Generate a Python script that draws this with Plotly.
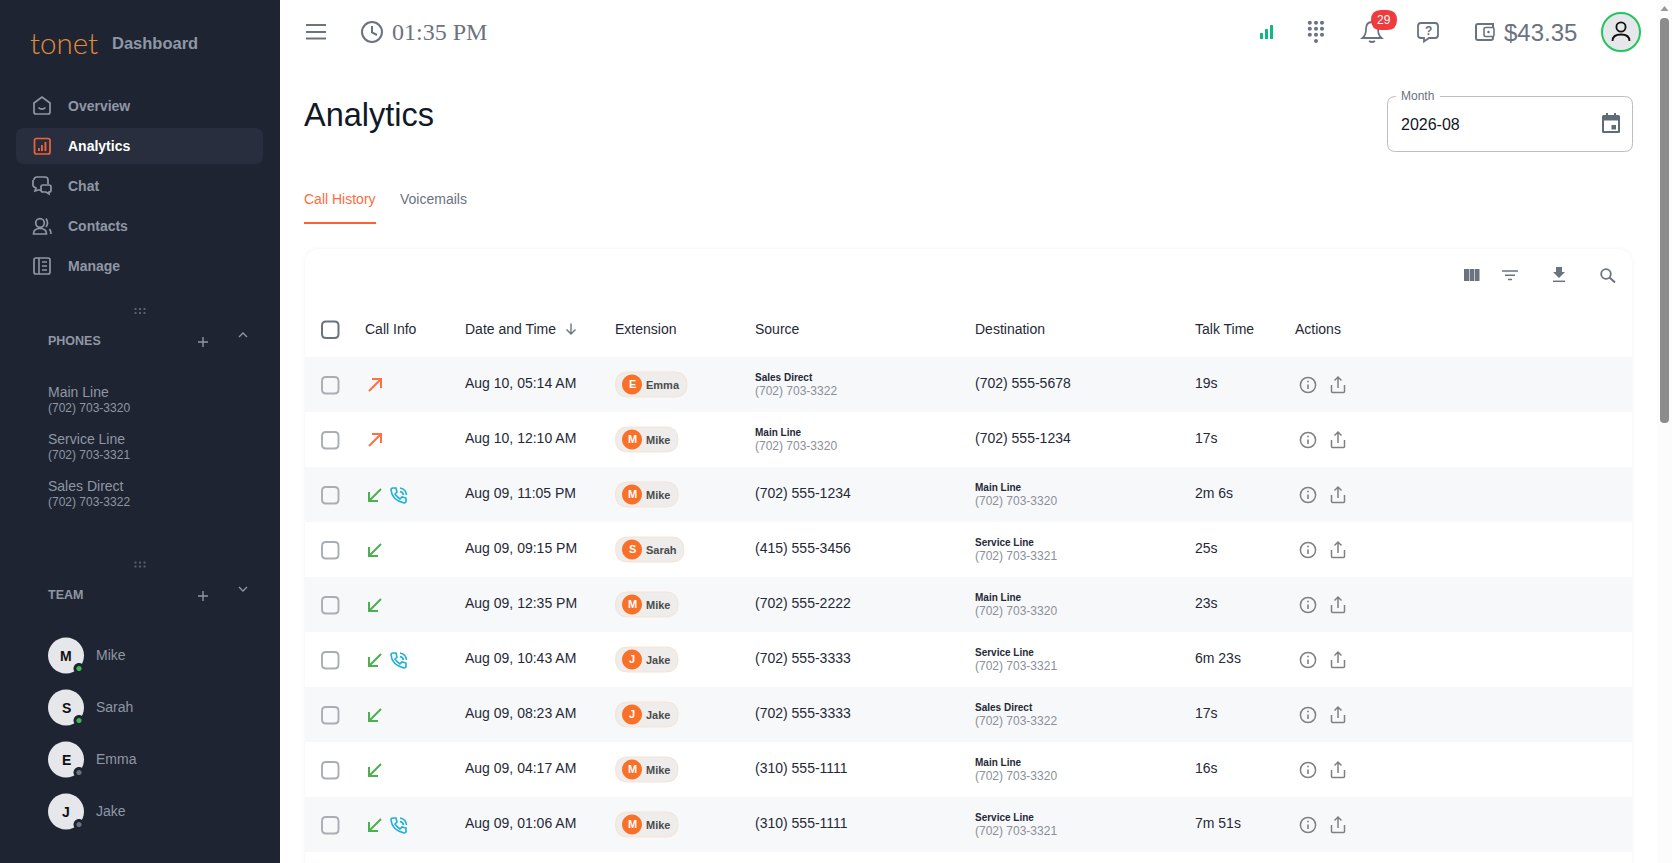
import re
import plotly.graph_objects as go

# ---------- content ----------
nav_labels = ["Overview", "Analytics", "Chat", "Contacts", "Manage"]
phone_names = ["Main Line", "Service Line", "Sales Direct"]
phone_numbers = ["(702) 703-3320", "(702) 703-3321", "(702) 703-3322"]
team_names = ["Mike", "Sarah", "Emma", "Jake"]
team_online = [True, True, False, False]
headers = ["Call Info", "Date and Time", "Extension", "Source", "Destination", "Talk Time", "Actions"]
directions = ["out", "out", "in", "in", "in", "in", "in", "in", "in"]
has_recording = [False, False, True, False, False, True, False, False, True]
dates = ["Aug 10, 05:14 AM", "Aug 10, 12:10 AM", "Aug 09, 11:05 PM", "Aug 09, 09:15 PM", "Aug 09, 12:35 PM",
         "Aug 09, 10:43 AM", "Aug 09, 08:23 AM", "Aug 09, 04:17 AM", "Aug 09, 01:06 AM"]
extensions = ["Emma", "Mike", "Mike", "Sarah", "Mike", "Jake", "Jake", "Mike", "Mike"]
sources = ["Sales Direct|(702) 703-3322", "Main Line|(702) 703-3320", "(702) 555-1234", "(415) 555-3456",
           "(702) 555-2222", "(702) 555-3333", "(702) 555-3333", "(310) 555-1111", "(310) 555-1111"]
destinations = ["(702) 555-5678", "(702) 555-1234", "Main Line|(702) 703-3320", "Service Line|(702) 703-3321",
                "Main Line|(702) 703-3320", "Service Line|(702) 703-3321", "Sales Direct|(702) 703-3322",
                "Main Line|(702) 703-3320", "Service Line|(702) 703-3321"]
talk_times = ["19s", "17s", "2m 6s", "25s", "23s", "6m 23s", "17s", "16s", "7m 51s"]

# ---------- styles ----------
SANS = "Liberation Sans"
SIDE = "#1e2432"
MUTED = "#8f97a4"
INK = "#1f2937"
GRAY = "#6b7280"
ORANGE = "#f97028"
W, H = 1672, 863

shapes, notes = [], []


def tp(d, ox=0, oy=0, s=1):
    out = []
    for cmd, args in re.findall(r"([MLCQZ])([^MLCQZ]*)", d):
        n = [float(v) for v in re.findall(r"-?\d+\.?\d*", args)]
        pts = " ".join(f"{ox + s * n[i]:.2f},{oy + s * n[i + 1]:.2f}" for i in range(0, len(n), 2))
        out.append(cmd + pts)
    return " ".join(out)


def circ(cx, cy, r, ry=None):
    ry = ry if ry is not None else r
    k = 0.5523
    return (f"M{cx - r},{cy} C{cx - r},{cy - k * ry} {cx - k * r},{cy - ry} {cx},{cy - ry} "
            f"C{cx + k * r},{cy - ry} {cx + r},{cy - k * ry} {cx + r},{cy} "
            f"C{cx + r},{cy + k * ry} {cx + k * r},{cy + ry} {cx},{cy + ry} "
            f"C{cx - k * r},{cy + ry} {cx - r},{cy + k * ry} {cx - r},{cy} Z")


def rrect(x0, y0, x1, y1, r):
    return (f"M{x0 + r},{y0} L{x1 - r},{y0} Q{x1},{y0} {x1},{y0 + r} L{x1},{y1 - r} Q{x1},{y1} {x1 - r},{y1} "
            f"L{x0 + r},{y1} Q{x0},{y1} {x0},{y1 - r} L{x0},{y0 + r} Q{x0},{y0} {x0 + r},{y0} Z")


def draw(d, color=None, width=0, fill=None, ox=0, oy=0, s=1):
    shapes.append(dict(type="path", xref="x", yref="y", path=tp(d, ox, oy, s),
                       line=dict(color=color or "rgba(0,0,0,0)", width=width),
                       fillcolor=fill or "rgba(0,0,0,0)", layer="above"))


def text(x, y, t, size=14, color=INK, bold=False, family=SANS, anchor="left", weight=None):
    notes.append(dict(x=x, y=y, xref="x", yref="y", text=f"<b>{t}</b>" if bold else t, showarrow=False,
                      xanchor=anchor, yanchor="middle", borderwidth=0, borderpad=0,
                      font=dict(family=family, size=size, color=color, **({"weight": weight} if weight else {}))))


# ---------- page frame ----------
draw(rrect(0, 0, 280, H, 0), fill=SIDE)
# scrollbar
draw(rrect(1657, 0, 1672, H, 0), fill="#fcfcfc")
draw(rrect(1660, 18, 1669, 423, 4), fill="#8c8c8c")
draw("M1660.5,11 L1664.5,6 L1668.5,11 Z", fill="#9a9a9a")

# ---------- sidebar ----------
text(29.5, 42, "tonet", size=29.5, color="#e08c3c", family="Lato", weight=300)
text(112, 43, "Dashboard", size=16.5, color=MUTED, bold=True)
draw(rrect(16, 128, 263, 164, 8), fill="#282e3d")
nav_y = [106, 146, 186, 226, 266]
for label, y in zip(nav_labels, nav_y):
    text(68, y, label, color="#ffffff" if label == "Analytics" else MUTED, bold=True)
IC = MUTED
draw("M-8,-3 L0,-9 L8,-3 L8,6 Q8,8 6,8 L-6,8 Q-8,8 -8,6 Z M-3.5,1.5 Q0,5 3.5,1.5", IC, 1.7, ox=42, oy=106)
draw(rrect(34.5, 138.5, 50, 154, 2), "#f0633a", 1.7)
for bx, by in [(38, 148), (41, 145), (44.5, 142)]:
    draw(rrect(bx, by, bx + 1.9, 151, 0.5), fill="#f0633a")
draw("M34,180 Q34,177 37,177 L45,177 Q48,177 48,180 L48,184 M41,190 L38,190 L35,191 L36,188 Q33,187 33,185 L33,180", IC, 1.7)
draw("M43,185 L49,185 Q51,185 51,187 L51,190 Q51,192 49,192 L49,194 L46,192 L43,192 Q41,192 41,190 L41,187 Q41,185 43,185 Z", IC, 1.7)
draw(circ(40, 223, 4.3), IC, 1.7)
draw("M33.5,234 Q33.5,228.5 40,228.5 Q46.5,228.5 46.5,234 Z M46,218.5 Q49,223 46,227 M49.5,229 Q51,231 51,234", IC, 1.7)
draw(rrect(34, 258, 50, 274, 2), IC, 1.7)
draw("M39,258 L39,274 M42,262 L47,262 M42,266 L47,266 M42,270 L47,270", IC, 1.6)


def grip(y):
    for gx in (135.5, 140, 144.5):
        for gy in (y - 2, y + 2):
            draw(rrect(gx - 1, gy - 1, gx + 1, gy + 1, 0.3), fill="#596070")


grip(311)
text(48, 340.5, "PHONES", size=12.5, color=MUTED, bold=True)
draw("M198,342 L208,342 M203,337 L203,347", MUTED, 1.4)
draw("M239,337 L243,333 L247,337", MUTED, 1.3)
for i, (nm, num) in enumerate(zip(phone_names, phone_numbers)):
    text(48, 392 + i * 47, nm, color=MUTED)
    text(48, 407.7 + i * 47, num, size=12, color=MUTED)
grip(564.5)
text(48, 594.5, "TEAM", size=12.5, color=MUTED, bold=True)
draw("M198,596 L208,596 M203,591 L203,601", MUTED, 1.4)
draw("M239,587 L243,591 L247,587", MUTED, 1.3)
for i, (nm, on) in enumerate(zip(team_names, team_online)):
    y = 655.5 + i * 52
    draw(circ(66, y, 18), fill="#e5e7eb")
    text(66, y, nm[0], color="#111111", bold=True, anchor="center")
    draw(circ(79, y + 13, 5.5), fill=SIDE)
    draw(circ(79, y + 13, 2.6), fill="#3fb950" if on else GRAY)
    text(96, y - 0.5, nm, color=MUTED)

# ---------- top bar ----------
draw("M306,25 L326,25 M306,32 L326,32 M306,38.5 L326,38.5", GRAY, 2)
draw(circ(372, 32, 10), GRAY, 2)
draw("M372,26 L372,32.5 L377,35", GRAY, 2)
text(392, 32, "01:35 PM", size=24, color=GRAY, family="Liberation Serif")
for bx, top in [(1260, 33), (1265, 29), (1270, 25)]:
    draw(rrect(bx, top, bx + 3, 39, 0.5), fill="#10b981")
for py in (22.7, 28.7, 34.7):
    for px in (1309.8, 1316, 1322):
        draw(circ(px, py, 2), fill=GRAY)
draw(circ(1316, 41, 2), fill=GRAY)
draw("M-9.5,6 Q-6,3 -6,-3 Q-6,-10 0,-10 Q6,-10 6,-3 Q6,3 9.5,6 Z M-3,9 Q0,11 3,9", GRAY, 1.8, ox=1372, oy=32)
draw(rrect(1371, 10, 1397, 30, 10), fill="#ef3b3b")
text(1384, 20, "29", size=12, color="#ffffff", anchor="center")
draw("M1421,23 L1435,23 Q1438,23 1438,26 L1438,35 Q1438,38 1435,38 L1429,38 L1424,41.5 L1424,38 L1421,38 Q1418,38 1418,35 L1418,26 Q1418,23 1421,23 Z", GRAY, 1.8)
text(1428, 30.5, "?", size=12, color=GRAY, bold=True, anchor="center")
draw("M1493,24 L1478,24 Q1476,24 1476,26 L1476,38 Q1476,40 1478,40 L1491,40 Q1493,40 1493,38 Z", GRAY, 2)
draw(rrect(1484, 27.5, 1494, 36.5, 1.5), GRAY, 1.6, fill="#ffffff")
draw(circ(1488.5, 32, 1.3), fill=GRAY)
text(1504, 32, "$43.35", size=24, color=GRAY)
draw(circ(1621, 32, 19), "#22c55e", 2, fill="#e5e7eb")
draw(circ(1621, 27, 4.6), "#111111", 1.8)
draw("M1612.5,41 Q1612.5,34.5 1621,34.5 Q1629.5,34.5 1629.5,41", "#111111", 1.8)

# ---------- title row ----------
text(304, 115, "Analytics", size=32.5, color="#111827")
draw(rrect(1387.5, 96.5, 1632.5, 151.5, 8), "#bdbdbd", 1, fill="#ffffff")
draw(rrect(1396, 93, 1440, 100, 0), fill="#ffffff")
text(1401, 96, "Month", size=12, color=GRAY)
text(1401, 124, "2026-08", size=16, color="#111827")
draw(rrect(1602, 115, 1620, 133, 1.5), fill="#5f6b7a")
draw(rrect(1604, 120.5, 1618, 131, 0), fill="#ffffff")
draw(rrect(1611.5, 125, 1616, 129.5, 0), fill="#5f6b7a")
draw("M1606,113 L1608,113 L1608,116 L1606,116 Z M1614,113 L1616,113 L1616,116 L1614,116 Z", fill="#5f6b7a")

# ---------- tabs ----------
text(304, 199, "Call History", color="#ff6b3d")
text(399.5, 199, "Voicemails", color=GRAY)
draw(rrect(304, 222, 376, 224, 0), fill="#ff5f33")

# ---------- card ----------
draw(rrect(302, 246, 1635, H + 30, 18), fill="#fdfdfd")
draw(rrect(304.5, 248.5, 1632.5, H + 30, 16), "#f9f9f9", 1, fill="#ffffff")
draw(rrect(1464, 269, 1469, 281, 0), fill=GRAY)
draw(rrect(1469.6, 269, 1474, 281, 0), fill=GRAY)
draw(rrect(1474.6, 269, 1479.5, 281, 0), fill=GRAY)
draw("M1502,271 L1518,271 M1505,275.3 L1515,275.3 M1508,279.5 L1512,279.5", GRAY, 1.6)
draw("M1556,267 L1562,267 L1562,272 L1565,272 L1559,278 L1553,272 L1556,272 Z", fill=GRAY)
draw("M1553,281.3 L1565,281.3", GRAY, 1.5)
draw(circ(1606, 274, 4.8), GRAY, 1.8)
draw("M1609.5,277.5 L1615,282.5", GRAY, 2)

# ---------- table ----------
COLX = [365, 465, 615, 755, 975, 1195, 1295]
for label, x in zip(headers, COLX):
    text(x, 329, label)
draw(rrect(322, 321.5, 338.5, 338, 4), GRAY, 2)
draw("M571,323.5 L571,334 M566.5,329.5 L571,334 L575.5,329.5", GRAY, 1.4)

CHIP_W = {"Emma": 72, "Mike": 63, "Sarah": 69, "Jake": 63}
ROW0, ROWH = 357, 55


def two_line(x, cy, value):
    if "|" in value:
        a, b = value.split("|")
        text(x, cy - 7.5, a, size=10, color="#1f2937", bold=True)
        text(x, cy + 6, b, size=12, color="#8a8f98")
    else:
        text(x, cy - 1.5, value)


for i, date in enumerate(dates):
    top = ROW0 + i * ROWH
    cy = top + 27.5
    if i % 2 == 0:
        draw(rrect(305, top, 1632, top + ROWH, 0), fill="#f7f8fa")
    draw(rrect(322, cy - 7.5, 338.5, cy + 9, 4), "#a9adb4", 1.9)
    if directions[i] == "out":
        draw("M-6,6.5 L6,-5.5 M-3,-5.5 L6,-5.5 L6,3.5", "#ff7043", 2, ox=375, oy=cy)
    else:
        draw("M6,-5.5 L-6,6.5 M3,6.5 L-6,6.5 L-6,-2.5", "#4caf50", 2, ox=375, oy=cy)
    if has_recording[i]:
        draw("M-6,-7 Q-8,-7 -8,-5 Q-7,5 5,8 Q7,8 7,6 L7,3 L3,2 L1,4 Q-2,2 -4,-1 L-2,-3 L-3,-7 Z "
             "M1,-7 Q7,-6 7.5,0 M1,-3.5 Q4,-3 4.5,0", "#1cb0d8", 1.6, ox=399, oy=cy + 0.5)
    text(COLX[1], cy - 1.5, date)
    name = extensions[i]
    draw(rrect(615.5, cy - 12.5, 615 + CHIP_W[name], cy + 12.5, 12.5), "#f6e3d3", 1, fill="#eeedec")
    draw(circ(632, cy, 10), fill=ORANGE)
    text(632, cy - 0.5, name[0], size=11, color="#ffffff", bold=True, anchor="center")
    text(646, cy + 0.5, name, size=11, color="#4b4b4b", bold=True)
    two_line(COLX[3], cy, sources[i])
    two_line(COLX[4], cy, destinations[i])
    text(COLX[5], cy - 1.5, talk_times[i])
    draw(circ(1308, cy + 0.5, 7.6), "#808080", 1.5)
    draw("M0,-0.5 L0,4", "#808080", 1.6, ox=1308, oy=cy + 0.5)
    draw(circ(1308, cy - 3, 0.9), fill="#808080")
    draw("M-6.5,0 L-6.5,6.5 Q-6.5,7.5 -5.5,7.5 L5.5,7.5 Q6.5,7.5 6.5,6.5 L6.5,0 M0,3 L0,-8 M-3.5,-4.5 L0,-8 L3.5,-4.5",
         "#808080", 1.5, ox=1338, oy=cy + 0.5)

fig = go.Figure()
fig.update_layout(
    width=W, height=H, autosize=False, margin=dict(l=0, r=0, t=0, b=0),
    paper_bgcolor="#ffffff", plot_bgcolor="#ffffff", showlegend=False,
    xaxis=dict(range=[0, W], visible=False, fixedrange=True),
    yaxis=dict(range=[H, 0], visible=False, fixedrange=True),
    shapes=shapes, annotations=notes,
)
fig.write_html("out.html", config=dict(displayModeBar=False),
               post_script="document.body.style.margin='0';document.body.style.overflow='hidden';")
